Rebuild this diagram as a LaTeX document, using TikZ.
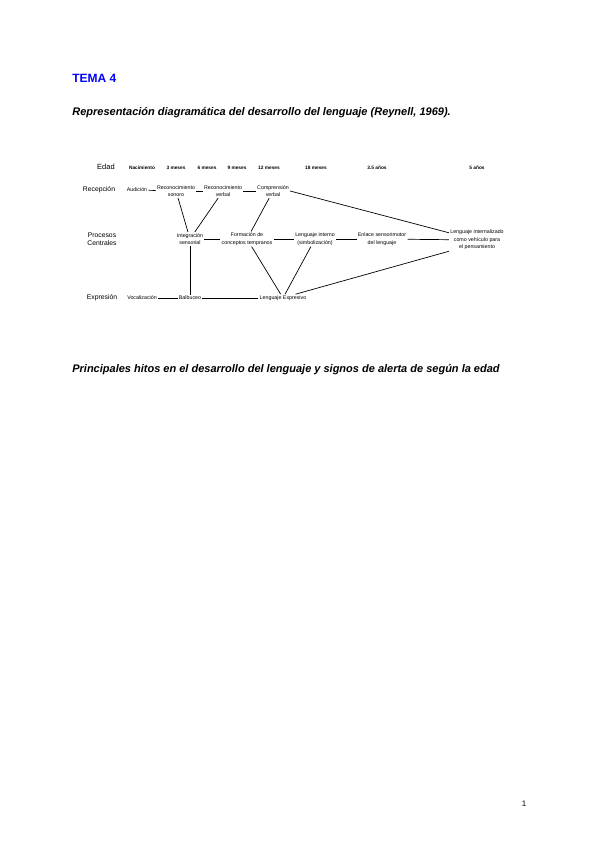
\documentclass[tikz,border=0pt]{standalone}
\usepackage{fontspec}
\setmainfont{Liberation Sans}
\usepackage{color}
\definecolor{mytemablue}{RGB}{0,0,255}
\usepackage{tikz}
\usetikzlibrary{calc,positioning}

\begin{document}
\begin{tikzpicture}[
  x=1pt,y=-1pt,
  line width=0.7pt,
  mytitle/.style={
    anchor=west,
    inner sep=0pt,
    font=\fontsize{11}{13}\selectfont\bfseries\itshape
    },
  myrow/.style={
    inner sep=0pt,
    align=center,
    font=\fontsize{6.8}{7.8}\selectfont
    },
  myage/.style={
    inner sep=0pt,
    font=\fontsize{4.8}{5.5}\selectfont\bfseries
    },
  mybox/.style={
    inner sep=1pt,
    align=center,
    font=\fontsize{5.3}{7.4}\selectfont
  }
]
\useasboundingbox (0,0) rectangle (600,848);

\node[anchor=west, inner sep=0pt, text=mytemablue, font=\fontsize{12}{14}\selectfont\bfseries] (tema) at (72,78) {TEMA 4};
\node[mytitle] (titulo1) at (72,113) {Representación diagramática del desarrollo del lenguaje (Reynell, 1969).};
\node[mytitle] (titulo2) at (72,370) {Principales hitos en el desarrollo del lenguaje y signos de alerta de según la edad};
\node[inner sep=0pt, font=\fontsize{8}{9}\selectfont] (pagina) at (524,804) {1};

% filas
\node[myrow, font=\fontsize{7.5}{8}\selectfont] (edad) at (106,167) {Edad};
\node[myrow] (recepcion) at (99,190) {Recepción};
\node[myrow] (procesos) at (102,239) {Procesos\\Centrales};
\node[myrow] (expresion) at (102,298) {Expresión};

\foreach \Edad/\Posx [count=\Edadi from 1] in {Nacimiento/142, 3 meses/176, 6 meses/207, 9 meses/237, 12 meses/269, 18 meses/316, 3.5 años/377, 5 años/477}
  \node[myage] (e\Edadi) at (\Posx,168) {\Edad};

% recepcion
\node[mybox] (aud) at (137,190) {Audición};
\node[mybox] (rson) at (176,191) {Reconocimiento\\sonoro};
\node[mybox] (rver) at (223,191) {Reconocimiento\\verbal};
\node[mybox] (comp) at (273,191) {Comprensión\\verbal};

% procesos centrales
\node[mybox] (integ) at (190,239) {Integración\\sensorial};
\node[mybox] (form) at (247,239) {Formación de\\conceptos tempranos};
\node[mybox] (lint) at (315,239) {Lenguaje interno\\(simbolización)};
\node[mybox] (enl) at (382,239) {Enlace sensorimotor\\del lenguaje};
\node[mybox] (linz) at (477,240) {Lenguaje internalizado\\como vehículo para\\el pensamiento};

% expresion
\node[mybox] (voc) at (142,298) {Vocalización};
\node[mybox] (balb) at (190,298) {Balbuceo};
\node[mybox] (lexp) at (283,298) {Lenguaje Expresivo};

\draw (aud) -- (rson);
\draw (rson) -- (rver);
\draw (rver) -- (comp);
\draw (rson) -- (integ);
\draw (rver) -- (integ);
\draw (comp) -- (form);
\draw (comp.east) -- ([yshift=-4pt]linz.north west);

\draw (integ) -- (form);
\draw (form) -- (lint);
\draw (lint) -- (enl);
\draw (enl) -- (linz);

\draw (integ) -- (balb);
\draw (form) -- (lexp);
\draw (lint) -- (lexp);
\draw (linz.south west) -- ([xshift=-12pt]lexp.north east);

\draw (voc) -- (balb);
\draw (balb) -- (lexp);

\end{tikzpicture}
\end{document}
